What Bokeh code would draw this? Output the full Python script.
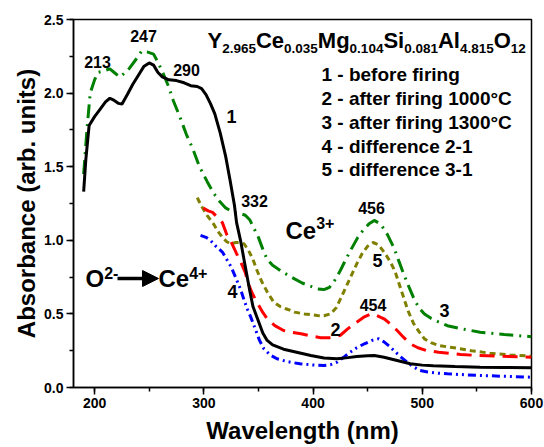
from bokeh.plotting import figure
from bokeh.models import Range1d, SingleIntervalTicker, PrintfTickFormatter, Label, Arrow, NormalHead
from bokeh.embed import file_html
from bokeh.resources import INLINE

# ---------------- data ----------------
wl_1 = [190, 192, 195, 200, 205, 210, 214, 218, 222, 225, 230, 235, 240, 245, 250, 254, 258, 262,
        268, 275, 282, 288, 294, 298, 302, 306, 310, 315, 320, 324, 328, 330, 333.6, 338, 342, 345,
        349, 354, 358, 363, 373, 385, 398, 410, 422, 432, 440, 450, 456, 465, 477, 489, 500, 510,
        530, 553, 575, 600]
ab_1 = [1.33, 1.55, 1.78, 1.84, 1.89, 1.94, 1.965, 1.95, 1.93, 1.925, 1.99, 2.06, 2.12, 2.18, 2.205,
        2.19, 2.14, 2.11, 2.09, 2.085, 2.07, 2.05, 2.045, 2.03, 1.99, 1.93, 1.86, 1.73, 1.57, 1.41,
        1.24, 1.12, 1.00, 0.82, 0.66, 0.55, 0.47, 0.37, 0.32, 0.29, 0.26, 0.24, 0.217, 0.20, 0.195,
        0.203, 0.211, 0.215, 0.217, 0.205, 0.183, 0.161, 0.152, 0.148, 0.143, 0.138, 0.136, 0.134]

wl_2 = [299.5, 304, 308, 312, 317, 321, 325, 330, 334, 338, 341, 345, 349, 354, 358, 365, 373, 380,
        389, 398, 407, 415, 420, 425, 432, 440, 447, 453, 458, 465, 471, 477, 483, 489, 496, 504,
        515, 535, 550, 568, 600]
ab_2 = [1.22, 1.20, 1.19, 1.16, 1.12, 1.04, 0.99, 0.91, 0.85, 0.78, 0.70, 0.63, 0.575, 0.51, 0.467,
        0.42, 0.387, 0.375, 0.365, 0.35, 0.338, 0.338, 0.343, 0.355, 0.40, 0.444, 0.48, 0.50, 0.49,
        0.467, 0.43, 0.387, 0.34, 0.297, 0.27, 0.251, 0.24, 0.224, 0.218, 0.213, 0.206]

wl_3 = [190, 193, 196, 200, 203, 208, 214, 218, 223, 230, 238, 243, 248, 254, 258, 263, 268, 272,
        278, 284, 290, 296, 303, 309, 315, 320, 327, 334, 338, 342, 346, 350, 354, 358, 363, 370,
        380, 390, 404, 410, 415, 420, 425, 430, 435, 441, 446, 451, 456, 462, 468, 474, 479, 483,
        488, 492, 497, 502, 508, 515, 523, 535, 553, 575, 600]
ab_3 = [1.45, 1.75, 2.00, 2.09, 2.14, 2.15, 2.165, 2.14, 2.11, 2.15, 2.23, 2.285, 2.28, 2.265, 2.21,
        2.13, 2.04, 1.95, 1.84, 1.72, 1.62, 1.50, 1.40, 1.32, 1.26, 1.22, 1.19, 1.18, 1.17, 1.14,
        1.08, 1.02, 0.94, 0.87, 0.83, 0.795, 0.75, 0.71, 0.67, 0.665, 0.68, 0.73, 0.795, 0.87,
        0.94, 1.02, 1.07, 1.11, 1.135, 1.11, 1.04, 0.95, 0.85, 0.77, 0.68, 0.61, 0.54, 0.50, 0.47,
        0.445, 0.42, 0.40, 0.376, 0.36, 0.345]

wl_4 = [297, 302, 306, 311, 317, 321, 325, 329, 334, 337, 340, 343, 347, 351, 355, 361, 367, 377,
        388, 400, 410, 416, 422, 428, 434, 440, 447, 454, 460, 465, 470, 474, 480, 486, 492, 498,
        505, 515, 523, 540, 553, 575, 600]
ab_4 = [1.033, 1.02, 1.00, 0.96, 0.92, 0.87, 0.82, 0.75, 0.66, 0.59, 0.53, 0.478, 0.40, 0.32, 0.263,
        0.22, 0.195, 0.175, 0.161, 0.153, 0.149, 0.155, 0.172, 0.205, 0.24, 0.27, 0.297, 0.32,
        0.331, 0.31, 0.28, 0.251, 0.21, 0.172, 0.14, 0.115, 0.105, 0.097, 0.093, 0.086, 0.082,
        0.076, 0.07]

wl_5 = [294, 298, 303, 309, 313, 317, 321, 325, 329, 333, 337, 341, 345, 349, 353, 358, 364, 370,
        377, 383, 392, 404, 410, 416, 421, 425, 430, 435, 440, 445, 450, 455, 460, 466, 471, 475,
        479, 483, 487, 492, 497, 502, 508, 515, 529, 545, 562, 580, 600]
ab_5 = [1.29, 1.23, 1.17, 1.11, 1.06, 1.02, 0.99, 0.975, 0.985, 0.985, 0.975, 0.93, 0.87, 0.79,
        0.72, 0.65, 0.58, 0.55, 0.53, 0.512, 0.50, 0.489, 0.487, 0.50, 0.54, 0.60, 0.68, 0.76, 0.84,
        0.91, 0.96, 0.985, 0.97, 0.91, 0.85, 0.79, 0.70, 0.61, 0.52, 0.435, 0.38, 0.33, 0.305,
        0.285, 0.27, 0.25, 0.233, 0.222, 0.213]

legend_lines = ["1 - before firing", "2 - after firing 1000°C", "3 - after firing 1300°C",
                "4 - difference 2-1", "5 - difference 3-1"]
formula_runs = [("Y", "n"), ("2.965", "s"), ("Ce", "n"), ("0.035", "s"), ("Mg", "n"), ("0.104", "s"),
                ("Si", "n"), ("0.081", "s"), ("Al", "n"), ("4.815", "s"), ("O", "n"), ("12", "s")]

# ---------------- figure ----------------
X0, X1, Y0, Y1 = 180.7, 600.0, 0.0, 2.5
FL, FR, FT, FB = 73, 531, 19, 387
FONT = "Liberation Sans"

p = figure(width=544, height=447, output_backend="svg", toolbar_location=None,
           x_range=Range1d(X0, X1), y_range=Range1d(Y0, Y1),
           min_border_left=FL, min_border_right=544 - FR, min_border_top=FT,
           min_border_bottom=447 - FB)
p.xgrid.visible = False
p.ygrid.visible = False
p.outline_line_color = "black"
p.outline_line_width = 1.5
p.outline_line_alpha = 1.0
p.background_fill_color = "white"
p.border_fill_color = "white"

p.xaxis.ticker = SingleIntervalTicker(interval=100, num_minor_ticks=2)
p.yaxis.ticker = SingleIntervalTicker(interval=0.5, num_minor_ticks=2)
p.yaxis.formatter = PrintfTickFormatter(format="%.1f")
for ax in (p.xaxis, p.yaxis):
    ax.axis_line_width = 1.5
    ax.major_tick_line_width = 1.5
    ax.minor_tick_line_width = 1.5
    ax.major_tick_out = 7
    ax.major_tick_in = 0
    ax.minor_tick_out = 4
    ax.minor_tick_in = 0
    ax.major_label_text_font = FONT
    ax.major_label_text_font_size = "14px"
    ax.major_label_text_font_style = "bold"
    ax.major_label_text_color = "black"
    ax.major_label_standoff = 3
    ax.axis_label_text_font = FONT
    ax.axis_label_text_font_size = "24px"
    ax.axis_label_text_font_style = "bold"
    ax.axis_label_text_color = "black"
p.xaxis.axis_label = "Wavelength (nm)"
p.yaxis.axis_label = "Absorbance (arb. units)"
p.xaxis.axis_label_standoff = 6
p.yaxis.axis_label_standoff = 1

p.line(wl_5, ab_5, line_color="#808000", line_width=3, line_dash="6 4")
p.line(wl_4, ab_4, line_color="#0000ff", line_width=3, line_dash="8 4 2 4 2 4")
p.line(wl_2, ab_2, line_color="#ff0000", line_width=3, line_dash="15 8")
p.line(wl_3, ab_3, line_color="#008000", line_width=3, line_dash="14 6 2 6")
p.line(wl_1, ab_1, line_color="black", line_width=3)

# ---------------- text helpers ----------------
def px2x(px):
    return X0 + (px - FL) / (FR - FL) * (X1 - X0)

def py2y(py):
    return Y1 - (py - FT) / (FB - FT) * (Y1 - Y0)

AW = {" ": 278, "(": 333, ")": 333, "+": 584, "-": 333, ".": 278, "°": 400,
      "A": 722, "C": 722, "M": 833, "O": 778, "S": 667, "Y": 667,
      "a": 556, "e": 556, "g": 611, "i": 278, "l": 278}

def width(s, size):
    return sum(AW.get(c, 556) for c in s) / 1000.0 * size

BASE_FIX = 0.37  # observed downward offset of the alphabetic baseline, in em

def label(px, py, text, size, align="left"):
    py = py - BASE_FIX * size
    p.add_layout(Label(x=px2x(px), y=py2y(py), text=text, text_font=FONT,
                       text_font_size=f"{size}px", text_font_style="bold",
                       text_color="black", text_align=align, text_baseline="alphabetic"))

def runs(px, py, items, big, small, shift):
    x = px
    for text, kind in items:
        size = big if kind == "n" else small
        yy = py if kind == "n" else py + shift
        label(x, yy, text, size)
        x += width(text, size)
    return x

# formula
runs(207, 48.5, formula_runs, 22, 13.5, 4.5)
# legend lines
for i, t in enumerate(legend_lines):
    label(321, 81.5 + i * 23.75, t, 19)

# peak positions
for t, cx, by in [("213", 97, 67), ("247", 143, 41.7), ("290", 186, 75), ("332", 254, 206.7),
                  ("456", 371, 213), ("454", 372.5, 310)]:
    label(cx, by, t, 16, "center")
# curve numbers
for t, cx, by in [("1", 231, 123), ("2", 335, 336), ("3", 444, 316.7), ("4", 232, 298),
                  ("5", 377, 266.7)]:
    label(cx, by, t, 18, "center")

# Ce3+
runs(285, 238.5, [("Ce", "n"), ("3+", "s")], 24, 16, -10)
# O2- -> Ce4+
runs(85, 287, [("O", "n"), ("2-", "s")], 24, 16, -8.5)
p.add_layout(Arrow(end=NormalHead(size=16, fill_color="black", line_color="black"),
                   x_start=px2x(117), y_start=py2y(278), x_end=px2x(158), y_end=py2y(278),
                   line_width=3.5, line_color="black"))
runs(158, 287, [("Ce", "n"), ("4+", "s")], 24, 16, -8.5)

open("out.html", "w").write(file_html(p, INLINE))
